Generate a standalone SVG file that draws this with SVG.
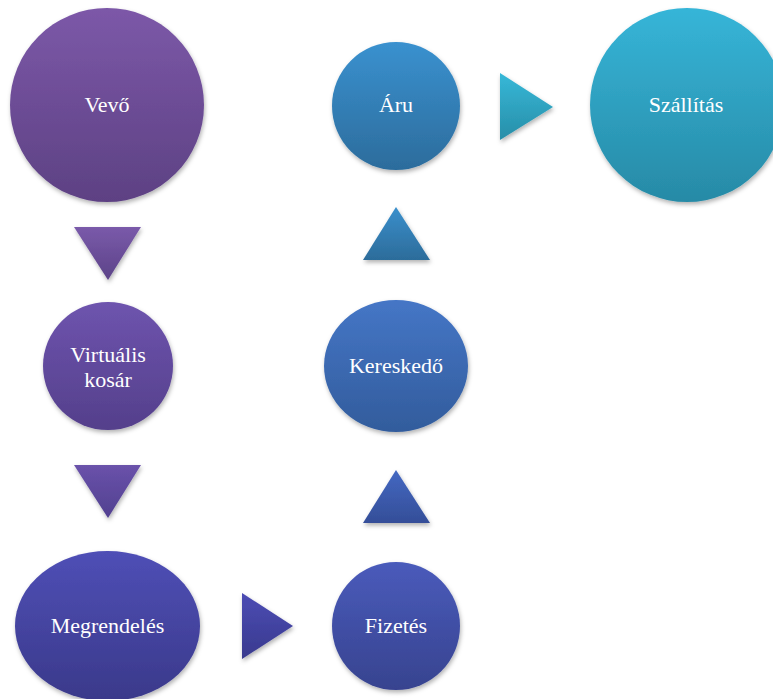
<svg xmlns="http://www.w3.org/2000/svg" width="773" height="699" viewBox="0 0 773 699">
  <style>
    .lbl { font-family: "Liberation Serif", "Times New Roman", serif; font-size: 22px; fill: #ffffff; text-anchor: middle; dominant-baseline: central; }
    .node, .arrow { filter: url(#shade); }
  </style>
  <defs>
    <filter id="shade" x="-20%" y="-20%" width="140%" height="140%">
      <feDropShadow dx="1" dy="2.5" stdDeviation="2" flood-color="#000000" flood-opacity="0.3"/>
    </filter>
    <linearGradient id="gVevo" x1="0" y1="0" x2="0" y2="1">
      <stop offset="0" stop-color="#7c58a8"/>
      <stop offset="1" stop-color="#5d4183"/>
    </linearGradient>
    <linearGradient id="gKosar" x1="0" y1="0" x2="0" y2="1">
      <stop offset="0" stop-color="#6e54ae"/>
      <stop offset="1" stop-color="#543f8b"/>
    </linearGradient>
    <linearGradient id="gMegr" x1="0" y1="0" x2="0" y2="1">
      <stop offset="0" stop-color="#4f4fb6"/>
      <stop offset="1" stop-color="#3a398a"/>
    </linearGradient>
    <linearGradient id="gFiz" x1="0" y1="0" x2="0" y2="1">
      <stop offset="0" stop-color="#4a5bbb"/>
      <stop offset="1" stop-color="#37438f"/>
    </linearGradient>
    <linearGradient id="gKer" x1="0" y1="0" x2="0" y2="1">
      <stop offset="0" stop-color="#4576c6"/>
      <stop offset="1" stop-color="#325c9c"/>
    </linearGradient>
    <linearGradient id="gAru" x1="0" y1="0" x2="0" y2="1">
      <stop offset="0" stop-color="#3a91cf"/>
      <stop offset="1" stop-color="#2c6c9c"/>
    </linearGradient>
    <linearGradient id="gSzall" x1="0" y1="0" x2="0" y2="1">
      <stop offset="0" stop-color="#36b5d8"/>
      <stop offset="1" stop-color="#278aa6"/>
    </linearGradient>
    <linearGradient id="aPurple" x1="0" y1="0" x2="0" y2="1">
      <stop offset="0" stop-color="#7a5aaa"/>
      <stop offset="1" stop-color="#5c4388"/>
    </linearGradient>
    <linearGradient id="aPurple2" x1="0" y1="0" x2="0" y2="1">
      <stop offset="0" stop-color="#6a52aa"/>
      <stop offset="1" stop-color="#514090"/>
    </linearGradient>
    <linearGradient id="aIndigo" x1="0" y1="0" x2="0" y2="1">
      <stop offset="0" stop-color="#4c4cb4"/>
      <stop offset="1" stop-color="#393a8e"/>
    </linearGradient>
    <linearGradient id="aBlue" x1="0" y1="0" x2="0" y2="1">
      <stop offset="0" stop-color="#4468c2"/>
      <stop offset="1" stop-color="#344e98"/>
    </linearGradient>
    <linearGradient id="aSky" x1="0" y1="0" x2="0" y2="1">
      <stop offset="0" stop-color="#3a8fcc"/>
      <stop offset="1" stop-color="#2c6c9a"/>
    </linearGradient>
    <linearGradient id="aCyan" x1="0" y1="0" x2="0" y2="1">
      <stop offset="0" stop-color="#36b8d8"/>
      <stop offset="1" stop-color="#288ea8"/>
    </linearGradient>
  </defs>

  <!-- flow arrows -->
  <g id="connectors">
    <polygon class="arrow" points="74,227 141,227 108,280" fill="url(#aPurple)"/>
    <polygon class="arrow" points="74,465 141,465 108,518" fill="url(#aPurple2)"/>
    <polygon class="arrow" points="242,593 242,659 293,626" fill="url(#aIndigo)"/>
    <polygon class="arrow" points="396,470 430,523 363,523" fill="url(#aBlue)"/>
    <polygon class="arrow" points="396,207 430,260 363,260" fill="url(#aSky)"/>
    <polygon class="arrow" points="500,73 500,140 553,107" fill="url(#aCyan)"/>
  </g>

  <g id="vevo">
    <circle class="node" cx="107" cy="105" r="97" fill="url(#gVevo)"/>
    <text class="lbl" x="107" y="104">Vevő</text>
  </g>
  <g id="virtualis-kosar">
    <ellipse class="node" cx="108" cy="366" rx="65" ry="64" fill="url(#gKosar)"/>
    <text class="lbl" x="108" y="354">Virtuális</text>
    <text class="lbl" x="108" y="379">kosár</text>
  </g>
  <g id="megrendeles">
    <ellipse class="node" cx="107.5" cy="626" rx="92.5" ry="75" fill="url(#gMegr)"/>
    <text class="lbl" x="107.5" y="625">Megrendelés</text>
  </g>
  <g id="fizetes">
    <circle class="node" cx="396" cy="626" r="64" fill="url(#gFiz)"/>
    <text class="lbl" x="396" y="625">Fizetés</text>
  </g>
  <g id="kereskedo">
    <ellipse class="node" cx="396" cy="366" rx="72" ry="66" fill="url(#gKer)"/>
    <text class="lbl" x="396" y="365">Kereskedő</text>
  </g>
  <g id="aru">
    <circle class="node" cx="396" cy="106" r="64" fill="url(#gAru)"/>
    <text class="lbl" x="396" y="104">Áru</text>
  </g>
  <g id="szallitas">
    <circle class="node" cx="687" cy="105" r="97" fill="url(#gSzall)"/>
    <text class="lbl" x="686" y="104">Szállítás</text>
  </g>
</svg>
